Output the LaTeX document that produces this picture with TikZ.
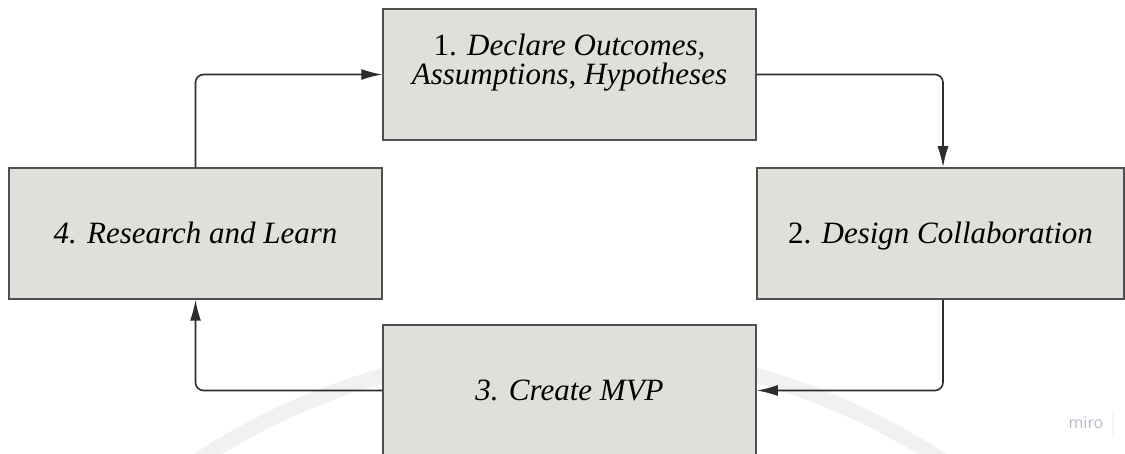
\documentclass[tikz,border=0pt]{standalone}
\usepackage{fontspec}
\setmainfont{Liberation Serif}
\newfontfamily\mirofont{Open Sans}
\usetikzlibrary{arrows.meta}
\definecolor{boxfill}{RGB}{224,224,219}
\definecolor{boxline}{RGB}{80,80,80}
\definecolor{conncol}{RGB}{45,45,45}
\definecolor{ringcol}{RGB}{241,241,241}
\definecolor{mirocol}{RGB}{185,185,200}
\begin{document}
\begin{tikzpicture}[x=1pt,y=-1pt,
  stepbox/.style={draw=boxline, fill=boxfill, line width=1.5pt, inner sep=0pt,
    font=\fontsize{31}{29.5}\selectfont, align=center, text height=20.5pt, text depth=0pt,
    minimum height=131pt},
  conn/.style={draw=conncol, line width=1.6pt, rounded corners=8pt,
    -{Latex[length=21pt,width=11pt]}}]
\useasboundingbox (0,0) rectangle (1125,454);
\clip (0,0) rectangle (1125,454);
\fill[white] (0,0) rectangle (1125,454);
\draw[ringcol, line width=15pt] (570,1029) circle (679.5pt);
\node[stepbox, minimum width=373pt] (b1) at (569.5,74.5)
  {1. \textit{Declare Outcomes,}\\ \textit{Assumptions, Hypotheses}};
\node[stepbox, minimum width=367pt] (b2) at (940.5,233.5)
  {2. \textit{Design Collaboration}};
\node[stepbox, minimum width=373pt] (b3) at (569.5,390.5)
  {\textit{3. Create MVP}};
\node[stepbox, minimum width=373pt] (b4) at (195.5,233.5)
  {\textit{4. Research and Learn}};
\draw[conn] (b4.north) |- (b1.west);
\draw[conn] (b1.east) -| ([xshift=2.5pt]b2.north);
\draw[conn] ([xshift=2.5pt]b2.south) |- (b3.east);
\draw[conn] (b3.west) -| (b4.south);
\node[font=\mirofont\fontsize{16}{16}\selectfont, text=mirocol] (miro) at (1086,423) {miro};
\draw[ringcol, line width=1pt] (1112,412) -- (1112,436);
\end{tikzpicture}
\end{document}
